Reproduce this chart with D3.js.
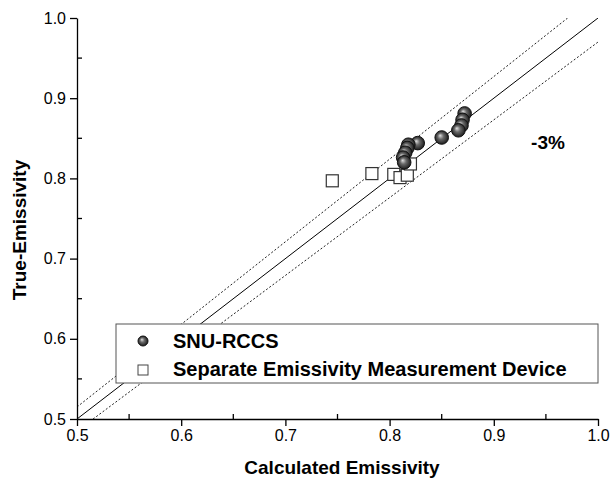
<!DOCTYPE html>
<html>
<head>
<meta charset="utf-8">
<script src="https://cdn.jsdelivr.net/npm/d3@7"></script>
<style>
  body { margin: 0; background: #fff; }
  svg { font-family: "Liberation Sans", Arial, sans-serif; }
  .axis path, .axis line { stroke: #000; stroke-width: 1.3; }
  .axis text { font-size: 16px; fill: #000; }
</style>
</head>
<body>
<div id="chart"></div>
<script>
// SNU-RCCS measurements (calculated vs true emissivity)
const snuCalc = [0.872, 0.870, 0.869, 0.866, 0.850, 0.827, 0.818, 0.817, 0.815, 0.813, 0.814];
const snuTrue = [0.881, 0.873, 0.866, 0.860, 0.851, 0.844, 0.842, 0.838, 0.832, 0.826, 0.820];

// Separate emissivity measurement device
const devCalc = [0.745, 0.783, 0.804, 0.810, 0.817, 0.820];
const devTrue = [0.797, 0.806, 0.805, 0.801, 0.804, 0.818];

const xTicks = [0.5, 0.6, 0.7, 0.8, 0.9, 1.0];
const yTicks = [0.5, 0.6, 0.7, 0.8, 0.9, 1.0];
const minorTicks = [0.55, 0.65, 0.75, 0.85, 0.95];

const bandPct = 0.03;
const seriesNames = ['SNU-RCCS', 'Separate Emissivity Measurement Device'];

const W = 612, H = 485;
const margin = {top: 18, right: 14, bottom: 66, left: 77};
const width = W - margin.left - margin.right;
const height = H - margin.top - margin.bottom;

const svg = d3.select('#chart').append('svg')
    .attr('width', W)
    .attr('height', H);

const defs = svg.append('defs');
const grad = defs.append('radialGradient')
    .attr('id', 'ball')
    .attr('cx', '50%').attr('cy', '50%').attr('r', '55%')
    .attr('fx', '38%').attr('fy', '35%');
grad.append('stop').attr('offset', '0%').attr('stop-color', '#e0e0e0');
grad.append('stop').attr('offset', '40%').attr('stop-color', '#6a6a6a');
grad.append('stop').attr('offset', '100%').attr('stop-color', '#111');

defs.append('clipPath').attr('id', 'plot-clip')
    .append('rect').attr('width', width).attr('height', height);

const g = svg.append('g')
    .attr('transform', `translate(${margin.left}, ${margin.top})`);

const x = d3.scaleLinear().domain([0.5, 1.0]).range([0, width]);
const y = d3.scaleLinear().domain([0.5, 1.0]).range([height, 0]);

// reference lines: y = x and +/- 3%
const lines = g.append('g').attr('clip-path', 'url(#plot-clip)');
const diag = d3.line().x(d => x(d[0])).y(d => y(d[1]));
const xs = [0.5, 1.0];
lines.append('path')
    .attr('d', diag(xs.map(v => [v, v])))
    .attr('fill', 'none').attr('stroke', '#000').attr('stroke-width', 1);
[1 + bandPct, 1 - bandPct].forEach(k => {
    lines.append('path')
        .attr('d', diag(xs.map(v => [v, v * k])))
        .attr('fill', 'none').attr('stroke', '#222').attr('stroke-width', 1)
        .attr('stroke-dasharray', '2,2');
});

// axes
g.append('g')
    .attr('class', 'axis')
    .attr('transform', `translate(0, ${height})`)
    .call(d3.axisBottom(x).tickValues(xTicks).tickFormat(d3.format('.1f')).tickSize(7).tickSizeOuter(0).tickPadding(4));
g.append('g')
    .attr('class', 'axis')
    .call(d3.axisLeft(y).tickValues(yTicks).tickFormat(d3.format('.1f')).tickSize(7).tickSizeOuter(0).tickPadding(4));

// minor ticks point inward
g.selectAll('.minor-x')
    .data(minorTicks)
    .enter().append('line')
    .attr('x1', d => x(d)).attr('x2', d => x(d))
    .attr('y1', height).attr('y2', height - 5)
    .attr('stroke', '#000').attr('stroke-width', 1.3);
g.selectAll('.minor-y')
    .data(minorTicks)
    .enter().append('line')
    .attr('x1', 0).attr('x2', 5)
    .attr('y1', d => y(d)).attr('y2', d => y(d))
    .attr('stroke', '#000').attr('stroke-width', 1.3);

// points
g.selectAll('.dev')
    .data(devCalc.map((d, i) => [d, devTrue[i]]))
    .enter().append('rect')
    .attr('x', d => x(d[0]) - 6)
    .attr('y', d => y(d[1]) - 6)
    .attr('width', 12).attr('height', 12)
    .attr('fill', '#fff').attr('stroke', '#333').attr('stroke-width', 1.2);

g.selectAll('.snu')
    .data(snuCalc.map((d, i) => [d, snuTrue[i]]))
    .enter().append('circle')
    .attr('cx', d => x(d[0]))
    .attr('cy', d => y(d[1]))
    .attr('r', 6.8)
    .attr('fill', 'url(#ball)').attr('stroke', '#111').attr('stroke-width', 1);

// -3% label
g.append('text')
    .attr('x', 471).attr('y', 131)
    .attr('text-anchor', 'middle')
    .attr('font-size', 19).attr('font-weight', 'bold')
    .text('-3%');

// legend
const lg = g.append('g').attr('transform', 'translate(39, 306)');
lg.append('rect')
    .attr('width', width - 39).attr('height', 59)
    .attr('fill', '#fff').attr('stroke', '#555').attr('stroke-width', 1);
lg.append('circle')
    .attr('cx', 27).attr('cy', 17).attr('r', 5)
    .attr('fill', 'url(#ball)').attr('stroke', '#111');
lg.append('rect')
    .attr('x', 22).attr('y', 41).attr('width', 10).attr('height', 10)
    .attr('fill', '#fff').attr('stroke', '#444');
lg.selectAll('.lt')
    .data(seriesNames)
    .enter().append('text')
    .attr('x', 57)
    .attr('y', (d, i) => 24 + i * 28)
    .attr('font-size', 20).attr('font-weight', 'bold')
    .text(d => d);

// axis titles
svg.append('text')
    .attr('x', 342).attr('y', 474)
    .attr('text-anchor', 'middle')
    .attr('font-size', 19).attr('font-weight', 'bold')
    .text('Calculated Emissivity');
svg.append('text')
    .attr('transform', `translate(26, 230) rotate(-90)`)
    .attr('text-anchor', 'middle')
    .attr('font-size', 19).attr('font-weight', 'bold')
    .text('True-Emissivity');
</script>
</body>
</html>
